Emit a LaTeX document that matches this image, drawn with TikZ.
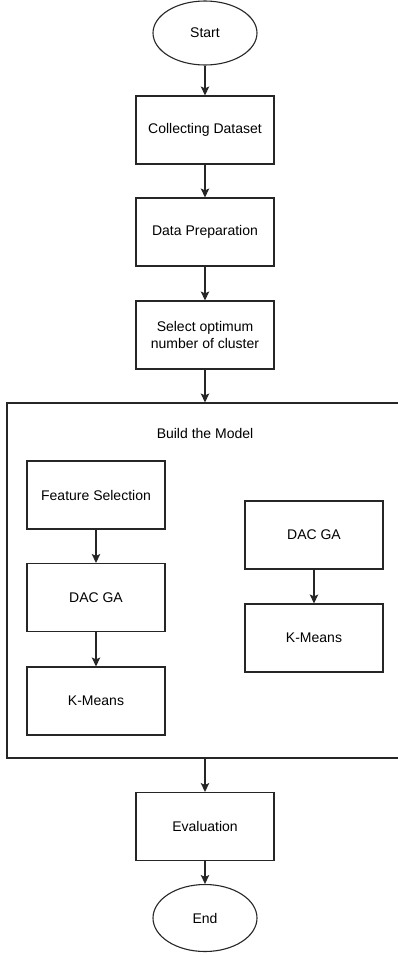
\documentclass[tikz,border=0pt]{standalone}
\usepackage{fontspec}
\setmainfont{Liberation Sans}
\usetikzlibrary{shapes.geometric,arrows.meta}

\tikzset{
  lbl/.style={text=black, font=\fontsize{14}{16.8}\selectfont},
  box/.style={lbl, draw=black!85, line width=1.1pt, fill=white, minimum width=138pt,
    minimum height=68pt, inner sep=2pt, align=center},
  term/.style={lbl, draw=black!85, line width=1.1pt, fill=white, ellipse, minimum width=104pt,
    minimum height=64pt, inner sep=0pt},
  frame/.style={draw=black!85, line width=1.1pt, minimum width=403pt, minimum height=355pt,
    inner sep=0pt},
  flow/.style={draw=black!85, line width=1.1pt, -{Stealth[length=9pt,width=8.5pt,inset=2pt]}},
}

\begin{document}
\begin{tikzpicture}[x=1pt,y=-1pt]
  \useasboundingbox (0,0) rectangle (398,955);
  \clip (0,0) rectangle (398,955);

  % main column
  \node[term] (start) at (205,33) {Start};
  \node[box] (collect) at (205,130) {Collecting Dataset};
  \node[box] (prep) at (205,232) {Data Preparation};
  \node[box] (select) at (205,335) {Select optimum\\number of cluster};

  % model-building group
  \node[frame] (model) at (208.5,580.5) {};
  \node[lbl] (title) at (205,433) {Build the Model};

  \node[box] (feat) at (96,495) {Feature Selection};
  \node[box] (dacA) at (96,597.5) {DAC GA};
  \node[box] (kmA) at (96,701) {K-Means};

  \node[box] (dacB) at (314,535) {DAC GA};
  \node[box] (kmB) at (314,638) {K-Means};

  \node[box] (eval) at (205,826.5) {Evaluation};
  \node[term, minimum height=67pt] (end) at (205,918) {End};

  \coordinate (mtop) at (select.south |- model.north);
  \coordinate (mbot) at (eval.north |- model.south);

  % connectors
  \draw[flow] (start) -- (collect);
  \draw[flow] (collect) -- (prep);
  \draw[flow] (prep) -- (select);
  \draw[flow] (select) -- (mtop);
  \draw[flow] (feat) -- (dacA);
  \draw[flow] (dacA) -- (kmA);
  \draw[flow] (dacB) -- (kmB);
  \draw[flow] (mbot) -- (eval);
  \draw[flow] (eval) -- (end);
\end{tikzpicture}
\end{document}
